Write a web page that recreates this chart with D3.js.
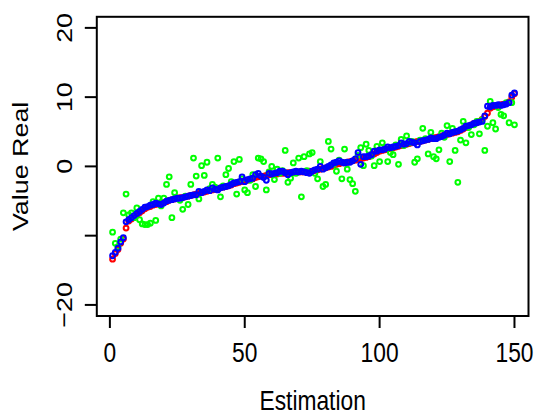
<!DOCTYPE html>
<html>
<head>
<meta charset="utf-8">
<script src="https://cdn.jsdelivr.net/npm/d3@7"></script>
<style>
  body { margin: 0; background: #fff; }
  text { font-family: "Liberation Sans", Arial, Helvetica, sans-serif; fill: #000; }
</style>
</head>
<body>
<div id="my_dataviz"></div>
<script>
// estimates (blue), sorted real values (red), noisy real values (green)
var blueVals = [-12.9,-12.4,-11.8,-10.9,-10.3,-8.0,-7.7,-7.4,-7.1,-6.8,
  -6.5,-6.2,-5.9,-5.8,-5.6,-5.5,-5.3,-5.4,-5.5,-5.3,
  -5.0,-4.9,-4.8,-4.7,-4.6,-4.6,-4.5,-4.4,-4.3,-4.2,
  -4.1,-4.1,-3.6,-3.8,-3.6,-3.4,-3.5,-3.1,-3.3,-3.4,
  -3.1,-3.0,-2.9,-2.8,-2.6,-2.4,-2.3,-2.2,-1.5,-2.2,
  -1.9,-1.8,-1.7,-1.2,-1.0,-1.4,-1.6,-2.0,-1.0,-1.1,
  -1.0,-0.9,-0.7,-0.7,-0.9,-1.2,-0.9,-0.8,-0.7,-0.8,
  -0.7,-0.8,-0.9,-1.0,-0.7,-0.5,-0.4,0.0,-0.4,-0.2,
  0.0,0.2,0.5,0.6,0.8,0.6,0.5,0.6,0.6,0.8,
  1.1,2.0,0.3,1.4,1.4,1.5,1.7,2.2,2.2,2.4,
  2.4,2.5,2.8,2.7,2.8,2.9,3.0,3.4,3.2,3.3,
  3.6,3.5,3.4,3.1,3.6,3.7,3.8,3.9,4.1,4.0,
  4.0,4.2,4.3,4.5,4.8,4.7,4.9,5.0,5.1,5.3,
  5.5,5.8,5.9,6.0,6.2,6.3,6.4,6.5,7.3,8.7,
  8.6,8.8,8.8,8.9,8.8,8.9,9.0,9.2,10.3,10.6];

var redVals = [-13.4,-12.6,-12.0,-11.1,-10.5,-8.9,-7.9,-7.6,-7.3,-7.0,
  -6.7,-6.4,-6.1,-5.9,-5.8,-5.6,-5.5,-5.4,-5.3,-5.2,
  -5.1,-4.9,-4.8,-4.7,-4.6,-4.5,-4.5,-4.4,-4.3,-4.2,
  -4.1,-4.0,-3.9,-3.8,-3.7,-3.6,-3.5,-3.4,-3.3,-3.2,
  -3.1,-3.0,-2.9,-2.8,-2.7,-2.5,-2.4,-2.3,-2.2,-2.1,
  -2.0,-1.9,-1.8,-1.6,-1.5,-1.4,-1.4,-1.3,-1.2,-1.2,
  -1.1,-1.1,-1.0,-1.0,-1.0,-0.9,-0.9,-0.9,-0.9,-0.8,
  -0.8,-0.8,-0.8,-0.7,-0.7,-0.6,-0.5,-0.4,-0.3,-0.2,
  -0.1,0.0,0.2,0.3,0.4,0.5,0.5,0.6,0.7,0.8,
  0.9,1.0,1.1,1.2,1.3,1.4,1.6,1.8,2.0,2.2,
  2.3,2.4,2.5,2.6,2.7,2.8,2.9,3.0,3.1,3.2,
  3.3,3.4,3.5,3.6,3.6,3.7,3.8,3.9,4.0,4.1,
  4.2,4.3,4.4,4.5,4.6,4.7,4.8,4.9,5.0,5.2,
  5.4,5.6,5.8,6.0,6.2,6.3,6.5,6.8,7.2,7.7,
  8.4,8.6,8.7,8.8,8.9,9.0,9.1,9.3,10.0,10.5];

var greenVals = [-9.5,-11.1,-11.6,-10.5,-6.7,-4.0,-7.0,-6.7,-7.4,-6.0,
  -7.7,-8.3,-8.4,-8.4,-8.2,-5.1,-7.8,-4.6,-5.7,-4.6,
  -2.6,-1.5,-7.4,-3.8,-4.6,-4.9,-6.2,-4.3,-5.5,-2.6,
  1.2,-1.4,-4.7,0.1,-1.3,0.6,-3.2,-2.6,-3.0,1.2,
  -4.4,-2.8,-1.2,-0.3,-2.2,0.7,-4.0,1.0,-1.8,-3.4,
  -3.8,-2.0,-1.2,-2.9,1.2,1.1,0.7,-3.4,-0.8,0.0,
  -1.9,-0.4,-1.0,-0.6,2.3,-2.3,-1.7,0.5,-1.0,1.2,
  -4.4,1.4,-0.6,1.8,2.0,-1.0,-1.8,0.7,-2.9,-2.6,
  3.6,2.5,0.3,-0.7,0.9,-1.8,2.5,-0.4,-1.9,-2.5,
  -3.6,1.6,2.7,0.1,3.2,2.3,1.5,0.1,2.9,0.7,
  3.4,2.6,0.7,2.0,1.7,3.1,0.3,3.9,3.0,4.4,
  3.4,3.6,0.6,1.1,3.8,5.5,4.0,1.8,4.9,1.4,
  1.1,2.4,4.8,4.2,5.9,0.7,5.5,2.3,-2.3,3.8,
  6.5,3.4,5.6,4.6,6.0,6.5,4.7,6.7,2.3,5.8,
  9.4,6.3,5.4,8.5,7.5,7.3,9.2,6.3,9.2,6.0];

var xTicks = [0, 50, 100, 150];
var yTicks = [-20, -10, 0, 10, 20];
var yTickLabels = ["\u221220", "", "0", "10", "20"];

var W = 536, H = 416;
var fs = 24, sx = 0.95, sy = 1.12;

var svg = d3.select("#my_dataviz")
  .append("svg")
    .attr("width", W)
    .attr("height", H);

var x = d3.scaleLinear()
  .domain([-4.85, 155.2])
  .range([96.8, 528.5]);

var y = d3.scaleLinear()
  .domain([-21.6, 21.6])
  .range([316, 16.8]);

// point series, drawn red, green, then blue on top
function drawSeries(vals, color) {
  svg.append("g")
    .selectAll("circle")
    .data(vals)
    .enter()
    .append("circle")
      .attr("cx", function(d, i) { return x(i + 1) })
      .attr("cy", function(d) { return y(d) })
      .attr("r", 2.4)
      .attr("fill", "none")
      .attr("stroke", color)
      .attr("stroke-width", 2);
}
drawSeries(redVals, "#ff0000");
drawSeries(greenVals, "#00ff00");
drawSeries(blueVals, "#0000ff");

// box
svg.append("rect")
  .attr("x", x.range()[0])
  .attr("y", y.range()[1])
  .attr("width", x.range()[1] - x.range()[0])
  .attr("height", y.range()[0] - y.range()[1])
  .attr("fill", "none")
  .attr("stroke", "#000")
  .attr("stroke-width", 2);

// x axis ticks
svg.append("g")
  .selectAll("line")
  .data(xTicks)
  .enter()
  .append("line")
    .attr("x1", function(d) { return x(d) })
    .attr("x2", function(d) { return x(d) })
    .attr("y1", y.range()[0])
    .attr("y2", y.range()[0] + 12)
    .attr("stroke", "#000")
    .attr("stroke-width", 2);

svg.append("g")
  .selectAll("text")
  .data(xTicks)
  .enter()
  .append("text")
    .attr("transform", function(d) { return "translate(" + x(d) + ",362) scale(" + sx + "," + sy + ")" })
    .style("text-anchor", "middle")
    .style("font-size", fs + "px")
    .text(function(d) { return d });

// y axis ticks
svg.append("g")
  .selectAll("line")
  .data(yTicks)
  .enter()
  .append("line")
    .attr("x1", x.range()[0] - 12)
    .attr("x2", x.range()[0])
    .attr("y1", function(d) { return y(d) })
    .attr("y2", function(d) { return y(d) })
    .attr("stroke", "#000")
    .attr("stroke-width", 2);

svg.append("g")
  .selectAll("text")
  .data(yTicks)
  .enter()
  .append("text")
    .attr("transform", function(d) { return "translate(72," + y(d) + ") scale(" + sx + "," + sy + ") rotate(-90)" })
    .style("text-anchor", "middle")
    .style("font-size", fs + "px")
    .text(function(d, i) { return yTickLabels[i] });

// axis titles
svg.append("text")
  .attr("transform", "translate(" + ((x.range()[0] + x.range()[1]) / 2) + ",410) scale(" + sx + "," + sy + ")")
  .style("text-anchor", "middle")
  .style("font-size", fs + "px")
  .text("Estimation");

svg.append("text")
  .attr("transform", "translate(28," + ((y.range()[0] + y.range()[1]) / 2) + ") scale(" + sx + "," + sy + ") rotate(-90)")
  .style("text-anchor", "middle")
  .style("font-size", fs + "px")
  .text("Value Real");
</script>
</body>
</html>
